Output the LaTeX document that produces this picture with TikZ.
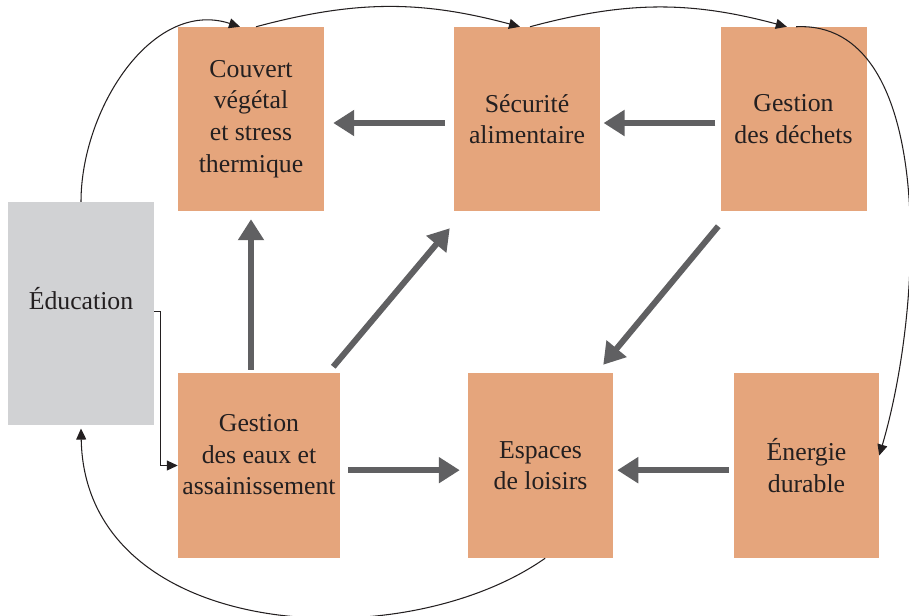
\documentclass[tikz,border=0pt]{standalone}
\usepackage{fontspec}
\setmainfont{Liberation Serif}
\usetikzlibrary{arrows.meta}
\definecolor{boxorange}{HTML}{E5A57C}
\definecolor{boxgrey}{HTML}{D1D2D4}
\definecolor{arrowgrey}{HTML}{606062}
\definecolor{textdark}{HTML}{231F20}

\begin{document}
\begin{tikzpicture}[x=0.03cm, y=-0.03cm,
        box/.style={rectangle, fill=boxorange, minimum width=4.38cm, minimum height=5.52cm, inner sep=0pt, align=center, text=textdark, font=\fontsize{22}{27}\selectfont},
        bigarrow/.style={-{Triangle[length=0.63cm, width=0.75cm]}, line width=0.18cm, arrowgrey},
        thinarrow/.style={-{Triangle[length=0.33cm, width=0.3cm]}, line width=0.9pt, textdark}]
      \useasboundingbox (0,0) rectangle (909,615);
      % Boxes
      \node[box] (couvert) at (251,119) {Couvert\\végétal\\et stress\\thermique};
      \node[box] (securite) at (527,119) {Sécurité\\alimentaire};
      \node[box] (dechets) at (793.5,119) {Gestion\\des déchets};
      \node[box, fill=boxgrey, minimum height=6.69cm, text depth=0.88cm] (edu) at (81,313.5) {Éducation};
      \node[box, minimum width=4.86cm, minimum height=5.55cm, text depth=0.66cm] (eaux) at (259,465.5) {Gestion\\des eaux et\\assainissement};
      \node[box, minimum width=4.35cm, minimum height=5.55cm] (loisirs) at (540.5,465.5) {Espaces\\de loisirs};
      \node[box, minimum width=4.35cm, minimum height=5.55cm] (energie) at (806.5,465.5) {Énergie\\durable};

      % Main links
      \draw[bigarrow, shorten <=0.27cm, shorten >=0.27cm] ([yshift=-0.12cm]securite.west) -- ([yshift=-0.12cm]couvert.east);
      \draw[bigarrow, shorten <=0.15cm, shorten >=0.1cm] ([yshift=-0.12cm]dechets.west) -- ([yshift=-0.12cm]securite.east);
      \draw[bigarrow, shorten >=0.24cm] ([yshift=0.09cm]couvert.south |- eaux.north) -- (couvert.south);
      \draw[bigarrow] ([xshift=-0.21cm, yshift=0.18cm]eaux.north east) -- ([xshift=-0.12cm, yshift=-0.51cm]securite.south west);
      \draw[bigarrow] ([xshift=-0.06cm, yshift=-0.45cm]dechets.south west) -- ([xshift=-0.3cm, yshift=0.24cm]loisirs.north east);
      \draw[bigarrow, shorten <=0.24cm, shorten >=0.24cm] ([yshift=-0.14cm]eaux.east) -- ([yshift=-0.14cm]loisirs.west);
      \draw[bigarrow, shorten <=0.15cm, shorten >=0.12cm] ([yshift=-0.14cm]energie.west) -- ([yshift=-0.14cm]loisirs.east);

      % Loop around
      \draw[thinarrow] (edu.north) to[out=90, in=162] ([xshift=-0.33cm]couvert.north);
      \draw[thinarrow] ([xshift=0.15cm]couvert.north) to[out=15, in=165] ([xshift=-0.21cm]securite.north);
      \draw[thinarrow] ([xshift=0.09cm]securite.north) to[out=15, in=165] ([xshift=-0.2cm]dechets.north);
      \draw[thinarrow] ([xshift=0.08cm]dechets.north) .. controls (935,20) and (925,300) .. ([yshift=0.3cm]energie.east);
      \draw[thinarrow] ([xshift=0.14cm]loisirs.south) .. controls (400,660) and (85,640) .. ([yshift=-0.1cm]edu.south);
      \draw[thinarrow] ([yshift=0.07cm]edu.east) -- ++(6,0) |- (eaux.west);
    \end{tikzpicture}
\end{document}
